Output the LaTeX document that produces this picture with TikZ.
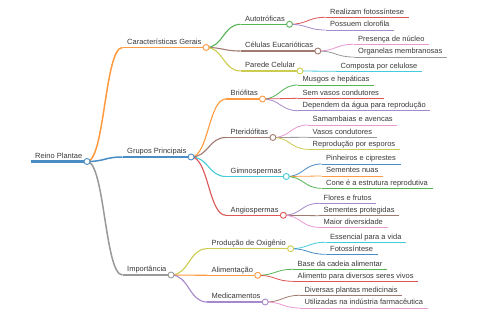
\documentclass[tikz,border=0pt]{standalone}
\usepackage{fontspec}
\setmainfont{Liberation Sans}
\usetikzlibrary{calc}
\definecolor{ink}{HTML}{3A3A3A}
\definecolor{cblue}{HTML}{4A8CC4}
\definecolor{corange}{HTML}{FF9A40}
\definecolor{cgreen}{HTML}{55B555}
\definecolor{cred}{HTML}{DE5555}
\definecolor{cpurple}{HTML}{A688CC}
\definecolor{cbrown}{HTML}{A07A70}
\definecolor{cpink}{HTML}{EA98D2}
\definecolor{cgray}{HTML}{999999}
\definecolor{colive}{HTML}{CCCD50}
\definecolor{ccyan}{HTML}{45CCDA}
\tikzset{
  topic/.style={font=\fontsize{7.5}{9}\selectfont, text=ink, anchor=south west,
    inner xsep=4.5pt, inner ysep=1.5pt, text height=5.5pt, text depth=1.5pt},
  link/.style={to path={let \p1=(\tikztostart), \p2=(\tikztotarget) in
    .. controls ({(\x1+\x2)/2},\y1) and ({(\x1+\x2)/2},\y2) .. (\tikztotarget)}},
  knot/.style={fill=white, line width=0.9pt},
  lvl0/.style={line width=2.4pt},
  lvl1/.style={line width=1.5pt},
  lvl2/.style={line width=1.1pt},
  lvl3/.style={line width=0.8pt}
}

\begin{document}
\begin{tikzpicture}[x=1pt,y=-1pt]

\fill[white] (0,0) rectangle (480,320);
\useasboundingbox (0,0) rectangle (480,320);

% Root
\node[topic] (root) at (30.5,161.5) {Reino Plantae};

% Main branches
\node[topic] (caract) at (122.5,47.5) {Características Gerais};
\node[topic] (grupos) at (122.5,157) {Grupos Principais};
\node[topic] (import) at (122.5,275) {Importância};

% Características Gerais
\node[topic] (auto) at (240.5,24.3) {Autotróficas};
\node[topic] (celulas) at (240.5,51) {Células Eucarióticas};
\node[topic] (parede) at (240.5,71) {Parede Celular};
\node[topic] (fotossint) at (325.5,17.3) {Realizam fotossíntese};
\node[topic] (clorofila) at (325.5,30) {Possuem clorofila};
\node[topic] (nucleo) at (353.5,44.3) {Presença de núcleo};
\node[topic] (organelas) at (353.5,57) {Organelas membranosas};
\node[topic] (celulose) at (336,71.3) {Composta por celulose};

% Grupos Principais
\node[topic] (brio) at (226,99) {Briófitas};
\node[topic] (pteri) at (226,137.5) {Pteridófitas};
\node[topic] (gimno) at (226,176.5) {Gimnospermas};
\node[topic] (angio) at (226,215.3) {Angiospermas};
\node[topic] (musgos) at (298,85) {Musgos e hepáticas};
\node[topic] (semvasos) at (298,98.3) {Sem vasos condutores};
\node[topic] (agua) at (298,110.7) {Dependem da água para reprodução};
\node[topic] (samamb) at (308,125) {Samambaias e avencas};
\node[topic] (vasos) at (308,137.3) {Vasos condutores};
\node[topic] (esporos) at (308,149.3) {Reprodução por esporos};
\node[topic] (pinheiros) at (321.5,164) {Pinheiros e ciprestes};
\node[topic] (nuas) at (321.5,176) {Sementes nuas};
\node[topic] (cone) at (321.5,188.3) {Cone é a estrutura reprodutiva};
\node[topic] (flores) at (319,203.3) {Flores e frutos};
\node[topic] (protegidas) at (319,215.7) {Sementes protegidas};
\node[topic] (diversidade) at (319,227.3) {Maior diversidade};

% Importância
\node[topic] (oxig) at (207,248.7) {Produção de Oxigênio};
\node[topic] (alim) at (207,275.3) {Alimentação};
\node[topic] (medic) at (207,302) {Medicamentos};
\node[topic] (vida) at (325.5,242.3) {Essencial para a vida};
\node[topic] (fotoss) at (325.5,254.3) {Fotossíntese};
\node[topic] (cadeia) at (293,269.3) {Base da cadeia alimentar};
\node[topic] (seres) at (293,281.3) {Alimento para diversos seres vivos};
\node[topic] (medicinais) at (300,295.3) {Diversas plantas medicinais};
\node[topic] (farma) at (300,308) {Utilizadas na indústria farmacêutica};

% Underlines
\draw[cblue, lvl0] (root.south west) -- (root.south east);
\foreach \n/\c in {caract/corange, grupos/cblue, import/cgray}
  \draw[\c, lvl1] (\n.south west) -- (\n.south east);
\foreach \n/\c in {auto/cgreen, celulas/cbrown, parede/colive, brio/corange,
    pteri/cbrown, gimno/ccyan, angio/cred, oxig/colive, alim/corange, medic/cpurple}
  \draw[\c, lvl2] (\n.south west) -- (\n.south east);
\foreach \n/\c in {fotossint/cred, clorofila/cpurple, nucleo/cpink, organelas/cgray,
    celulose/ccyan, musgos/cgreen, semvasos/cred, agua/cpurple, samamb/cpink,
    vasos/cgray, esporos/colive, pinheiros/cblue, nuas/corange, cone/cgreen,
    flores/cpurple, protegidas/cbrown, diversidade/cpink, vida/ccyan, fotoss/cblue,
    cadeia/cgreen, seres/cred, medicinais/cbrown, farma/cpink}
  \draw[\c, lvl3] (\n.south west) -- (\n.south east);

% Links
\foreach \a/\b/\c in {root/caract/corange, root/grupos/cblue, root/import/cgray}
  \draw[\c, lvl1] (\a.south east) to[link] (\b.south west);
\foreach \a/\b/\c in {caract/auto/cgreen, caract/celulas/cbrown, caract/parede/colive,
    grupos/brio/corange, grupos/pteri/cbrown, grupos/gimno/ccyan, grupos/angio/cred,
    import/oxig/colive, import/alim/corange, import/medic/cpurple}
  \draw[\c, lvl2] (\a.south east) to[link] (\b.south west);
\foreach \a/\b/\c in {auto/fotossint/cred, auto/clorofila/cpurple,
    celulas/nucleo/cpink, celulas/organelas/cgray, parede/celulose/ccyan,
    brio/musgos/cgreen, brio/semvasos/cred, brio/agua/cpurple,
    pteri/samamb/cpink, pteri/vasos/cgray, pteri/esporos/colive,
    gimno/pinheiros/cblue, gimno/nuas/corange, gimno/cone/cgreen,
    angio/flores/cpurple, angio/protegidas/cbrown, angio/diversidade/cpink,
    oxig/vida/ccyan, oxig/fotoss/cblue, alim/cadeia/cgreen, alim/seres/cred,
    medic/medicinais/cbrown, medic/farma/cpink}
  \draw[\c, lvl3] (\a.south east) to[link] (\b.south west);

% Knots
\foreach \n/\c in {root/cblue, caract/corange, grupos/cblue, import/cgray,
    auto/cgreen, celulas/cbrown, parede/colive, brio/corange, pteri/cbrown,
    gimno/ccyan, angio/cred, oxig/colive, alim/corange, medic/cpurple}
  \draw[\c, knot] (\n.south east) circle (3pt);

\end{tikzpicture}
\end{document}
